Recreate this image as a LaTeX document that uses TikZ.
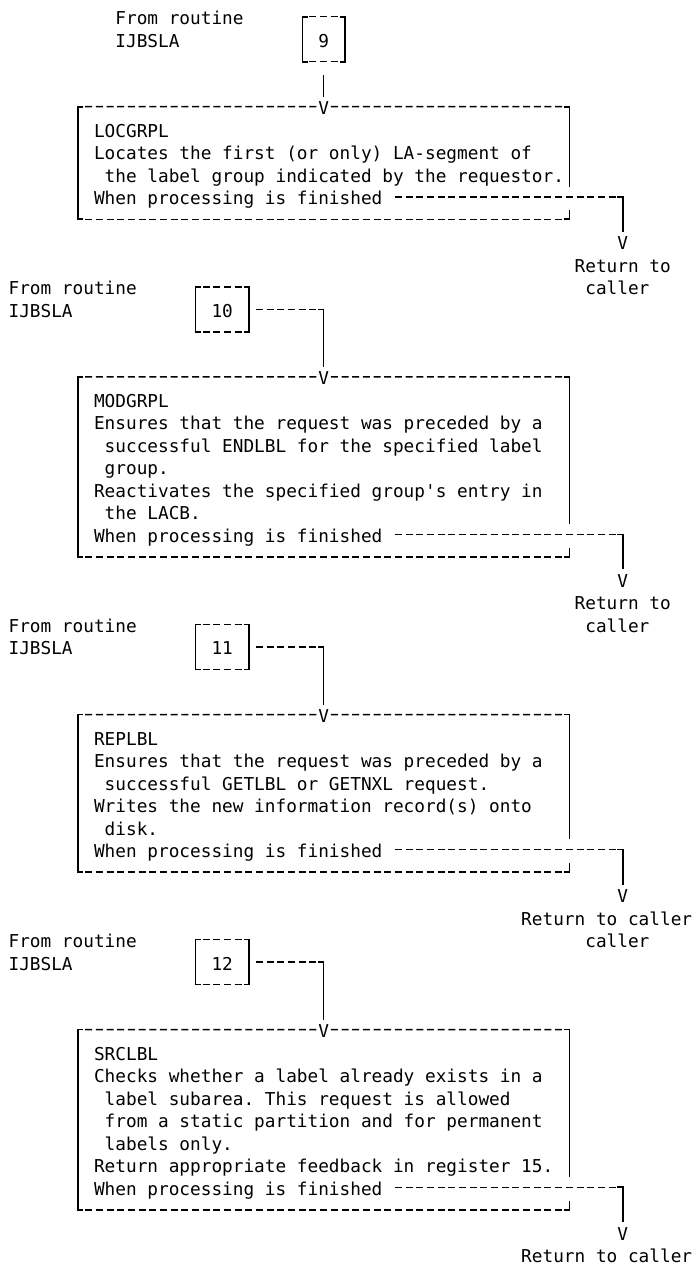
\documentclass[tikz,border=0pt]{standalone}
\usepackage{fontspec}
\newfontfamily\codefont{DejaVu Sans Mono}
% one character cell: 10.68pt wide, 22.51pt per line
\newcommand\gridfont{\codefont\fontsize{17.74pt}{22.51pt}\selectfont\frenchspacing}
\newcommand\padone{\hphantom{x}}

% frame of a small numbered box: solid sides, dashed top and bottom
\newcommand\sframe[1]{%
  \draw[bar] ([xshift=5.34pt]#1.north west) -- (#1.north west) -- (#1.south west) -- ([xshift=5.34pt]#1.south west);
  \draw[bar] ([xshift=-5.34pt]#1.north east) -- (#1.north east) -- (#1.south east) -- ([xshift=-5.34pt]#1.south east);
  \draw[hy] ([xshift=5.34pt]#1.north west) -- ([xshift=-5.34pt]#1.north east);
  \draw[hy] ([xshift=5.34pt]#1.south west) -- ([xshift=-5.34pt]#1.south east);}

% frame of a routine box: #1 box, #2 entry arrow head, #3 length of the right side
\newcommand\bframe[3]{%
  \draw[bar] ([xshift=5.34pt]#1.north west) -- (#1.north west) -- (#1.south west) -- ([xshift=5.34pt]#1.south west);
  \draw[hy] ([xshift=5.34pt]#1.north west) -- (#2.west);
  \draw[hy] (#2.east) -- ([xshift=-5.34pt]#1.north east);
  \draw[hy] ([xshift=5.34pt]#1.south west) -- ([xshift=-5.34pt]#1.south east);
  \draw[bar] ([xshift=-5.34pt]#1.north east) -- (#1.north east) -- ([yshift=-#3]#1.north east);
  \draw[bar] ([xshift=-5.34pt]#1.south east) -- (#1.south east) -- ([yshift=9pt]#1.south east);}

\begin{document}
\begin{tikzpicture}[x=10.68pt, y=-22.51pt,
  cell/.style={inner sep=0pt, outer sep=0pt, font=\gridfont, text height=16pt, text depth=0pt},
  txt/.style={cell, anchor=west},
  tip/.style={cell, anchor=center},
  numbox/.style={cell, minimum width=#1, minimum height=45.02pt},
  routine/.style={cell, minimum width=491.28pt, minimum height=#1},
  bar/.style={line width=1.6pt},
  hy/.style={line width=1.5pt, dash pattern=on 7pt off 3.68pt, dash phase=8.84pt}]

\fill[white] (-0.805,-0.742) rectangle (64.18,55.81);
\useasboundingbox (-0.805,-0.742) rectangle (64.18,55.81);

% ---------------- LOCGRPL ----------------
\node[txt] (f1) at (10,0) {From routine};
\node[txt] (i1) at (10,1) {IJBSLA};
\node[numbox=42.72pt] (b9) at (29.5,1) {9};
\sframe{b9}
\node[tip] (v1) at (29.5,4) {V};
\draw[bar, shorten <=13.3pt, shorten >=2pt] (b9.south) -- (v1.north);

\node[routine=112.55pt] (locgrpl) at (29.5,6.5) {};
\bframe{locgrpl}{v1}{79.9pt}
\node[txt] (a1) at (8,5) {LOCGRPL};
\node[txt] (a2) at (8,6) {Locates the first (or only) LA-segment of};
\node[txt] (a3) at (8,7) {\padone the label group indicated by the requestor.};
\node[txt] (a4) at (8,8) {When processing is finished};

\coordinate (k1) at (57.5,8);
\node[tip] (r1) at (57.5,10) {V};
\draw[hy] ([xshift=10.68pt]a4.east) -- ([xshift=-5.34pt]k1);
\draw[bar, shorten >=2pt] ([xshift=-5.34pt]k1) -- (k1) -- (r1.north);
\node[txt] (rt1) at (53,11) {Return to};
\node[txt] (rc1) at (54,12) {caller};

% ---------------- MODGRPL ----------------
\node[txt] (f2) at (0,12) {From routine};
\node[txt] (i2) at (0,13) {IJBSLA};
\node[numbox=53.4pt] (b10) at (20,13) {10};
\sframe{b10}
\coordinate (k10) at (29.5,13);
\node[tip] (v2) at (29.5,16) {V};
\draw[hy] ([xshift=5.34pt]b10.east) -- ([xshift=-5.34pt]k10);
\draw[bar, shorten >=2pt] ([xshift=-5.34pt]k10) -- (k10) -- (v2.north);

\node[routine=180.08pt] (modgrpl) at (29.5,20) {};
\bframe{modgrpl}{v2}{147.4pt}
\node[txt] (m1) at (8,17) {MODGRPL};
\node[txt] (m2) at (8,18) {Ensures that the request was preceded by a};
\node[txt] (m3) at (8,19) {\padone successful ENDLBL for the specified label};
\node[txt] (m4) at (8,20) {\padone group.};
\node[txt] (m5) at (8,21) {Reactivates the specified group's entry in};
\node[txt] (m6) at (8,22) {\padone the LACB.};
\node[txt] (m7) at (8,23) {When processing is finished};

\coordinate (k2) at (57.5,23);
\node[tip] (r2) at (57.5,25) {V};
\draw[hy] ([xshift=10.68pt]m7.east) -- ([xshift=-5.34pt]k2);
\draw[bar, shorten >=2pt] ([xshift=-5.34pt]k2) -- (k2) -- (r2.north);
\node[txt] (rt2) at (53,26) {Return to};
\node[txt] (rc2) at (54,27) {caller};

% ---------------- REPLBL ----------------
\node[txt] (f3) at (0,27) {From routine};
\node[txt] (i3) at (0,28) {IJBSLA};
\node[numbox=53.4pt] (b11) at (20,28) {11};
\sframe{b11}
\coordinate (k11) at (29.5,28);
\node[tip] (v3) at (29.5,31) {V};
\draw[hy] ([xshift=5.34pt]b11.east) -- ([xshift=-5.34pt]k11);
\draw[bar, shorten >=2pt] ([xshift=-5.34pt]k11) -- (k11) -- (v3.north);

\node[routine=157.57pt] (replbl) at (29.5,34.5) {};
\bframe{replbl}{v3}{124.9pt}
\node[txt] (p1) at (8,32) {REPLBL};
\node[txt] (p2) at (8,33) {Ensures that the request was preceded by a};
\node[txt] (p3) at (8,34) {\padone successful GETLBL or GETNXL request.};
\node[txt] (p4) at (8,35) {Writes the new information record(s) onto};
\node[txt] (p5) at (8,36) {\padone disk.};
\node[txt] (p6) at (8,37) {When processing is finished};

\coordinate (k3) at (57.5,37);
\node[tip] (r3) at (57.5,39) {V};
\draw[hy] ([xshift=10.68pt]p6.east) -- ([xshift=-5.34pt]k3);
\draw[bar, shorten >=2pt] ([xshift=-5.34pt]k3) -- (k3) -- (r3.north);
\node[txt] (rt3) at (48,40) {Return to caller};
\node[txt] (rc3) at (54,41) {caller};

% ---------------- SRCLBL ----------------
\node[txt] (f4) at (0,41) {From routine};
\node[txt] (i4) at (0,42) {IJBSLA};
\node[numbox=53.4pt] (b12) at (20,42) {12};
\sframe{b12}
\coordinate (k12) at (29.5,42);
\node[tip] (v4) at (29.5,45) {V};
\draw[hy] ([xshift=5.34pt]b12.east) -- ([xshift=-5.34pt]k12);
\draw[bar, shorten >=2pt] ([xshift=-5.34pt]k12) -- (k12) -- (v4.north);

\node[routine=180.08pt] (srclbl) at (29.5,49) {};
\bframe{srclbl}{v4}{147.4pt}
\node[txt] (s1) at (8,46) {SRCLBL};
\node[txt] (s2) at (8,47) {Checks whether a label already exists in a};
\node[txt] (s3) at (8,48) {\padone label subarea. This request is allowed};
\node[txt] (s4) at (8,49) {\padone from a static partition and for permanent};
\node[txt] (s5) at (8,50) {\padone labels only.};
\node[txt] (s6) at (8,51) {Return appropriate feedback in register 15.};
\node[txt] (s7) at (8,52) {When processing is finished};

\coordinate (k4) at (57.5,52);
\node[tip] (r4) at (57.5,54) {V};
\draw[hy] ([xshift=10.68pt]s7.east) -- ([xshift=-5.34pt]k4);
\draw[bar, shorten >=2pt] ([xshift=-5.34pt]k4) -- (k4) -- (r4.north);
\node[txt] (rt4) at (48,55) {Return to caller};
\end{tikzpicture}
\end{document}
